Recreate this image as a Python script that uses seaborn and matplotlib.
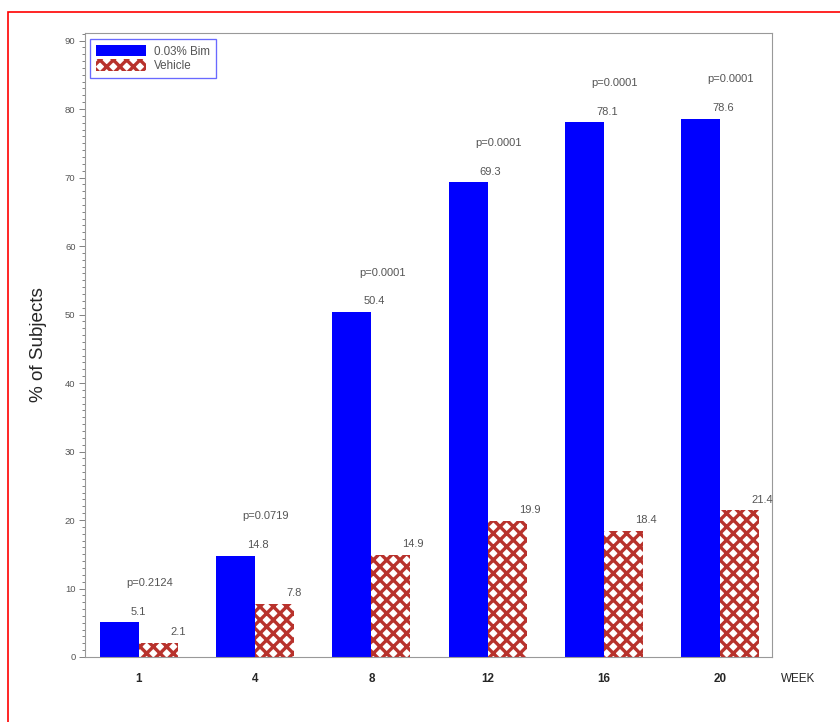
import matplotlib
matplotlib.use("Agg")
import matplotlib.pyplot as plt
import pandas as pd
import seaborn as sns
from matplotlib.patches import Patch, Rectangle
from matplotlib.ticker import MultipleLocator

weeks = ["1", "4", "8", "12", "16", "20"]
groups = ["0.03% Bim", "Vehicle"]
bim_values = [5.1, 14.8, 50.4, 69.3, 78.1, 78.6]
vehicle_values = [2.1, 7.8, 14.9, 19.9, 18.4, 21.4]
p_values = ["p=0.2124", "p=0.0719", "p=0.0001", "p=0.0001", "p=0.0001", "p=0.0001"]

BLUE = "#0000ff"
RED = "#b8322c"
TEXT_GRAY = "#555555"

df = pd.DataFrame({
    "week": weeks * 2,
    "group": [groups[0]] * len(weeks) + [groups[1]] * len(weeks),
    "pct": bim_values + vehicle_values,
})

sns.set_style("white")
plt.rcParams["font.family"] = ["Liberation Sans", "DejaVu Sans"]
plt.rcParams["hatch.linewidth"] = 3.0
plt.rcParams["hatch.color"] = RED

fig = plt.figure(figsize=(10.5, 9.025), dpi=80)
ax = fig.add_axes([85 / 840, 65 / 722, 687 / 840, 624 / 722])

sns.barplot(
    data=df, x="week", y="pct", hue="group", order=weeks, hue_order=groups,
    palette=[BLUE, "white"], width=0.67, saturation=1, legend=False, ax=ax,
)

# style the vehicle bars as red cross-hatch
for bar in ax.containers[1]:
    bar.set_facecolor("white")
    bar.set_edgecolor(RED)
    bar.set_hatch("xx")
    bar.set_linewidth(0)
for bar in ax.containers[0]:
    bar.set_linewidth(0)

# value labels above each bar
for cont, vals in zip(ax.containers, [bim_values, vehicle_values]):
    for bar, v in zip(cont, vals):
        x = bar.get_x() + bar.get_width() / 2 + 0.1
        ax.text(x, v + 0.8, f"{v:.1f}", ha="left", va="bottom",
                fontsize=10, color=TEXT_GRAY)

# p-values above the blue bar
for bar, v, p in zip(ax.containers[0], bim_values, p_values):
    x = bar.get_x() + bar.get_width() / 2 + 0.06
    ax.text(x, v + 5.0, p, ha="left", va="bottom", fontsize=10, color=TEXT_GRAY)

ax.set_xlim(-0.464, 5.447)
ax.set_ylim(0, 91.1)
ax.set_yticks(range(0, 91, 10))
ax.yaxis.set_minor_locator(MultipleLocator(1))
ax.tick_params(axis="y", which="major", direction="out", length=5, width=0.8,
               colors="#777777", labelsize=8.5, labelcolor=TEXT_GRAY, left=True)
ax.tick_params(axis="y", which="minor", direction="out", length=3, width=0.8,
               colors="#777777", left=True)
ax.tick_params(axis="x", length=0, pad=14, labelsize=10.5)
for lbl in ax.get_xticklabels():
    lbl.set_fontweight("bold")

for spine in ax.spines.values():
    spine.set_color("#999999")
    spine.set_linewidth(1.0)

ax.set_xlabel("")
ax.set_ylabel("% of Subjects", fontsize=17, labelpad=16)
ax.text(1.038, -0.035, "WEEK", transform=ax.transAxes, fontsize=10.5,
        ha="center", va="center")

handles = [
    Patch(facecolor=BLUE, edgecolor=BLUE, linewidth=0, label=groups[0]),
    Patch(facecolor="white", edgecolor=RED, hatch="xx", linewidth=0, label=groups[1]),
]
leg = ax.legend(handles=handles, loc="upper left", bbox_to_anchor=(0.007, 0.99),
                fontsize=10.5, frameon=True, fancybox=False, handlelength=4.3,
                handleheight=1.1, labelspacing=0.15, borderpad=0.5,
                handletextpad=0.7, borderaxespad=0)
leg.get_frame().set_edgecolor("#4444ff")
leg.get_frame().set_linewidth(1.2)
for t in leg.get_texts():
    t.set_color(TEXT_GRAY)

# red frame around the picture
fig.patches.append(Rectangle((8 / 840, -0.05), 1.2, 1 - 12 / 722 + 0.05,
                             transform=fig.transFigure, fill=False,
                             edgecolor="red", linewidth=1.5))

fig.savefig("out.png", dpi=80)
